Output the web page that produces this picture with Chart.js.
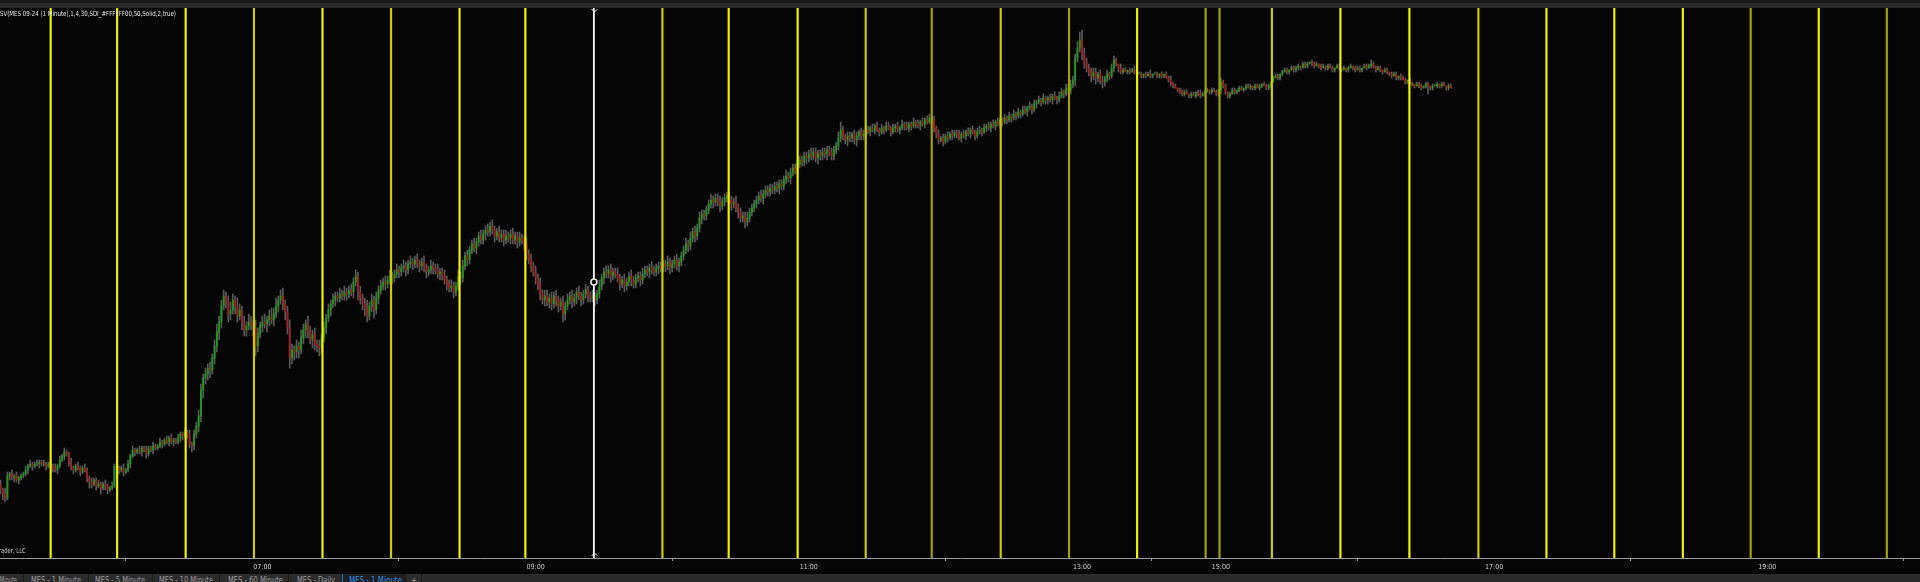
<!DOCTYPE html>
<html>
<head>
<meta charset="utf-8">
<script src="https://cdn.jsdelivr.net/npm/chart.js@4.4.1/dist/chart.umd.min.js"></script>
<style>
html, body { margin: 0; padding: 0; background: #050505; overflow: hidden; }
#page { position: relative; width: 1920px; height: 582px; background: #050505; }
#toolbar { position: absolute; left: 0; top: 0; width: 1920px; height: 8px; background: #2a2a2a; border-top: 3px solid #1a1a1a; box-sizing: border-box; }
#wrap { position: absolute; left: 0; top: 8px; width: 1920px; height: 566px; }
.txt { position: absolute; white-space: nowrap; font-family: 'Liberation Sans Narrow', 'DejaVu Sans Condensed', sans-serif; transform-origin: 0 0; line-height: 1; }
#header { left: 0; top: 11px; font-size: 7px; color: #e8e8e8; z-index: 2; }
#copy { top: 548px; font-size: 7px; color: #cfcfcf; z-index: 2; }
#tabs { position: absolute; left: 0; top: 574px; width: 1920px; height: 8px; background: #2b2b2b; overflow: hidden; }
.tab { position: absolute; top: 0; height: 8px; box-sizing: border-box; border-right: 1px solid #1b1b1b; }
.tab span { position: absolute; top: 3px; font-size: 8px; color: #9c9c9c; }
.tab.active { background: #1e1e1e; border-left: 1px solid #1e7fd8; }
.tab.active span { color: #2a8fe8; }
</style>
</head>
<body>
<div id="page">
  <div id="toolbar"></div>
  <div id="wrap"><canvas id="chart"></canvas></div>
  <div id="header" class="txt">SV(MES 09-24 (1 Minute),1,4,30,SDI_#FFFFFF00,50,Solid,2,true)</div>
  <div id="copy" class="txt">© 2024 NinjaTrader, LLC</div>
  <div id="tabs"></div>
</div>
<script>
// price data in ticks (0.25) above BASE, one bar per minute slot
const BASE = 5534;
const TICK = 0.25;
const firstSlot = -115;      // slot 0 = 07:00
const firstOpenTick = 37;

const closeTicks = [
  34,32,30,41,42,40,41,39,40,41,
  42,44,46,47,46,47,47,48,47,47,
  46,47,46,45,44,46,49,51,53,52,
  48,45,44,46,45,43,45,44,40,38,
  37,39,36,37,35,37,36,34,35,36,
  46,45,44,45,43,44,47,51,54,53,
  54,53,55,54,52,55,54,56,55,56,
  58,57,59,58,60,58,59,58,60,62,
  61,63,62,57,56,62,66,71,84,90,
  92,95,94,100,106,113,118,126,131,128,
  122,124,129,126,121,124,118,114,116,118,
  117,115,106,112,116,118,117,119,121,119,
  122,126,129,131,127,123,115,100,104,103,
  106,104,110,114,117,113,109,112,107,106,
  105,110,115,120,124,127,129,131,130,132,
  131,133,132,134,133,138,141,133,130,127,
  125,121,126,129,124,130,134,136,138,137,
  139,141,140,142,144,143,145,146,144,147,
  148,147,149,147,146,148,145,143,144,146,
  145,144,142,143,141,139,137,135,136,133,
  136,141,140,146,151,149,154,157,155,158,
  161,159,162,164,163,166,164,161,163,160,
  162,159,161,160,162,159,161,158,160,159,
  157,152,149,146,143,140,137,132,129,131,
  128,130,127,131,129,126,128,122,126,129,
  131,128,130,133,131,129,132,134,131,130,
  131,129,132,136,140,143,142,144,141,143,
  142,140,137,139,136,138,141,139,137,140,
  141,139,142,144,143,145,144,143,145,146,
  145,147,146,148,145,147,149,146,148,151,
  154,157,156,160,163,161,165,170,172,171,
  174,177,179,178,180,178,176,178,180,181,
  179,177,178,175,173,170,171,168,170,173,
  175,177,179,181,180,182,184,183,185,184,
  186,185,187,186,189,191,190,193,195,194,
  197,199,198,201,200,202,201,203,200,202,
  201,203,202,204,203,201,204,206,210,214,
  211,209,211,210,212,209,211,213,211,212,
  214,213,215,214,216,214,213,215,214,216,
  215,213,215,216,214,215,217,216,215,217,
  216,218,217,216,218,217,219,218,220,219,
  215,212,209,210,208,211,210,212,211,213,
  212,210,212,211,213,212,214,213,211,213,
  214,213,215,216,215,217,216,218,217,219,
  218,220,219,221,220,222,221,223,222,224,
  223,225,226,224,227,228,229,228,230,229,
  230,229,231,230,229,231,233,232,235,234,
  237,239,250,255,259,252,248,245,243,241,
  243,240,242,239,238,240,242,241,245,249,
  247,245,243,244,243,244,243,244,243,242,
  242,241,242,241,242,241,242,242,241,242,
  241,242,240,239,237,236,235,234,233,232,
  233,232,231,232,231,233,232,231,232,233,
  234,233,234,233,232,234,238,236,233,231,
  232,234,233,234,235,234,235,236,235,236,
  235,236,235,236,237,236,235,236,238,240,
  241,240,242,243,244,243,244,245,244,245,
  246,245,247,246,247,248,247,246,247,246,
  245,246,245,246,245,244,245,246,245,244,
  245,244,245,246,245,244,245,244,245,246,
  245,246,247,246,244,245,244,243,244,243,
  242,241,242,240,241,240,239,238,239,237,
  237,236,237,236,235,236,237,236,235,236,
  236,237,236,237,236,235,236,235
];

// wick length in ticks above the body top / below the body bottom
const upperWick = [
  2,1,3,2,1,2,1,2,1,1, 1,2,1,2,1,1,2,1,1,2, 1,1,2,1,2,1,2,1,2,1, 1,2,1,1,2,1,1,2,1,1,
  2,1,1,2,1,1,2,1,1,2, 1,2,1,1,2,1,2,1,2,1, 1,2,1,1,2,1,1,2,1,1, 2,1,1,2,1,2,1,1,2,1,
  1,2,1,2,1,2,2,3,3,2, 3,2,3,2,3,4,3,3,3,2, 3,4,3,2,4,3,2,3,2,4, 3,2,4,3,2,3,4,2,3,4,
  3,4,2,3,4,2,3,4,3,2, 3,2,4,3,2,4,3,2,3,2, 3,2,3,2,3,2,3,2,2,3, 2,3,2,2,3,2,3,2,3,2,
  3,4,2,3,2,3,2,3,2,3, 2,3,2,2,3,2,2,3,2,2, 3,2,2,3,2,2,3,2,2,3, 2,2,3,2,2,3,2,2,3,2,
  2,3,2,3,2,3,2,2,3,2, 2,3,2,2,3,2,3,2,2,3, 2,2,3,2,2,3,2,2,3,2, 2,3,2,3,2,3,2,3,2,3,
  3,2,3,2,3,2,2,3,2,3, 2,3,2,2,3,2,2,3,2,2, 3,2,2,3,2,2,3,2,3,2, 2,3,2,2,3,2,2,3,2,2,
  2,2,3,2,2,2,3,2,2,2, 2,2,2,3,2,2,2,3,2,2, 2,3,2,3,2,3,2,3,2,2, 2,2,3,2,2,2,3,2,2,2,
  2,2,2,3,2,2,2,2,3,2, 2,2,2,2,3,2,2,2,2,2, 2,2,2,2,2,3,2,2,2,2, 2,2,2,2,2,2,3,2,2,2,
  2,2,2,2,2,2,2,2,3,4, 2,1,2,2,1,2,2,1,2,2, 1,2,1,2,1,2,1,2,1,2, 2,1,2,1,2,1,2,1,2,1,
  1,2,1,2,1,2,1,2,2,1, 2,1,2,1,2,1,2,1,2,1, 1,2,1,2,1,2,1,2,1,2, 2,1,2,1,2,1,2,1,2,1,
  1,2,1,2,1,2,1,2,1,2, 2,1,2,1,2,1,2,1,2,1, 1,2,1,2,1,2,2,1,2,2, 2,2,2,3,4,5,3,2,2,2,
  2,2,1,2,2,1,2,1,2,2, 1,0,2,1,1,0,1,1,2,1, 1,1,0,1,1,2,0,1,1,0, 1,0,1,1,2,1,1,0,1,1,
  1,1,0,1,1,0,1,2,1,1, 1,0,1,1,1,0,2,1,1,0, 1,1,1,0,1,1,0,1,1,1, 0,1,1,1,0,1,1,1,0,1,
  1,1,0,1,1,1,0,1,1,1, 1,0,1,1,1,0,1,1,1,0, 1,1,0,1,1,1,0,1,1,0, 1,0,1,1,0,1,1,1,0,1,
  1,1,2,1,0,1,1,0,1,1, 0,1,1,1,0,1,1,1,0,1, 1,0,1,1,1,0,1,1,0,1, 1,1,0,1,1,0,1,1
];
const lowerWick = [
  2,3,2,1,2,1,2,1,2,1, 1,1,2,1,2,1,1,2,1,1, 2,1,1,2,1,2,1,1,2,1, 2,1,2,1,1,2,1,1,2,3,
  2,1,2,1,3,1,2,2,1,1, 1,1,2,1,2,1,1,2,1,2, 1,1,2,1,2,1,1,2,1,1, 1,2,1,1,2,1,2,1,1,2,
  2,1,2,2,3,2,2,3,3,4, 3,3,4,2,3,3,4,3,2,3, 4,3,2,4,3,2,4,3,3,2, 3,4,5,3,2,3,2,4,3,2,
  3,2,3,2,3,4,3,5,3,4, 3,4,2,3,4,3,2,4,3,3, 4,3,2,3,2,3,2,3,2,2, 2,2,3,2,2,3,2,4,3,3,
  4,3,2,3,4,2,3,2,2,3, 2,2,3,2,2,3,2,2,3,2, 2,3,2,2,3,2,2,3,2,2, 3,2,2,3,2,2,3,2,2,3,
  2,2,3,2,2,3,2,2,2,3, 2,2,2,3,2,2,2,3,2,2, 2,3,2,2,3,2,2,3,2,2, 3,3,2,3,2,3,3,3,2,3,
  2,3,3,2,3,3,2,4,3,2, 2,3,2,3,2,3,2,2,3,2, 2,3,2,2,2,3,2,2,3,2, 2,2,3,2,3,2,2,3,2,2,
  2,3,2,2,2,3,2,2,2,3, 2,2,3,2,3,2,2,2,3,2, 2,2,3,2,2,3,2,2,3,2, 2,2,2,3,2,2,3,2,2,2,
  2,3,2,2,3,2,2,3,2,2, 2,2,2,2,2,3,2,2,2,2, 2,2,3,2,2,2,2,3,2,2, 2,2,2,2,3,2,2,2,2,3,
  2,2,2,3,2,2,2,2,2,2, 2,2,3,2,2,2,3,2,2,2, 2,1,2,1,2,1,2,1,2,1, 1,2,1,2,1,2,1,2,1,2,
  2,1,2,1,2,1,2,1,1,2, 2,2,2,1,2,1,2,1,2,1, 2,1,2,1,2,1,2,1,2,1, 1,2,1,2,1,2,1,2,1,2,
  2,1,2,1,2,1,2,1,2,1, 1,2,1,2,1,2,1,2,1,2, 2,1,2,1,2,1,1,2,1,2, 2,2,3,2,2,3,3,2,2,3,
  2,3,2,2,3,2,2,2,1,2, 1,2,1,1,0,1,1,0,1,1, 0,1,1,1,0,1,1,0,1,1, 1,1,0,1,1,1,0,1,1,1,
  1,0,1,1,0,1,1,1,0,1, 0,1,1,0,1,1,2,1,1,1, 1,0,1,1,1,0,1,1,0,1, 1,1,0,1,1,0,1,1,1,0,
  0,1,1,1,0,1,1,0,1,1, 1,1,0,1,1,0,1,1,0,1, 1,0,1,1,0,1,1,0,1,1, 0,1,1,0,1,1,0,1,1,0,
  1,0,1,1,1,0,1,1,0,1, 1,1,0,1,1,1,0,1,1,0, 1,1,0,1,1,0,1,4,1,1, 0,1,1,1,0,1,1,0
];

// time axis
const hourSlots = [0, 120, 240, 360, 421, 541, 661];
const hourLabels = ['07:00', '09:00', '11:00', '13:00', '15:00', '17:00', '19:00'];

// session divider lines (indicator) and cursor
const markSlots = [-93.0, -63.8, -33.7, -3.7, 26.4, 56.5, 86.6, 115.5, 175.7, 204.8, 235.1, 265.0, 294.0, 324.3,
  354.3, 384.2, 414.3, 420.4, 443.4, 473.5, 503.8, 534.1, 564.0, 593.8, 623.9, 653.7, 683.6, 713.5];
const cursorSlot = 145.6;
const cursorPrice = 5568.5;

// styles
const Y1 = '#f4f400', Y2 = '#cccc00', Y3 = '#a2a200';
const markColors = [Y1, Y1, Y1, Y2, Y1, Y2, Y1, Y1, Y2, Y1, Y1, Y2, Y3, Y2,
  Y3, Y1, Y3, Y3, Y2, Y1, Y1, Y2, Y1, Y1, Y1, Y3, Y1, Y3];
const UP = '#1f9a1f', DOWN = '#a31e1e', WICK = '#595959';
const FONT = "'Liberation Sans Narrow', 'DejaVu Sans Condensed', sans-serif";

const yMin = BASE, yMax = BASE + 275 * TICK;
const xMin = -115.25, xMax = 728.07;

const bars = closeTicks.map((c, i) => {
  const o = i === 0 ? firstOpenTick : closeTicks[i - 1];
  return {
    x: firstSlot + i,
    o: BASE + o * TICK,
    c: BASE + c * TICK,
    h: BASE + (Math.max(o, c) + upperWick[i]) * TICK,
    l: BASE + (Math.min(o, c) - lowerWick[i]) * TICK
  };
});

const cursorMarks = {
  id: 'cursorMarks',
  afterDatasetsDraw(chart) {
    const { ctx, chartArea, scales } = chart;
    const px = Math.round(scales.x.getPixelForValue(cursorSlot)) + 0.5;
    ctx.save();
    ctx.strokeStyle = '#eeeeee';
    ctx.lineWidth = 1;
    ctx.beginPath();
    ctx.moveTo(px - 3, chartArea.top + 1); ctx.lineTo(px, chartArea.top + 4); ctx.lineTo(px + 3, chartArea.top + 1);
    ctx.moveTo(px - 3, chartArea.bottom - 2); ctx.lineTo(px, chartArea.bottom - 5); ctx.lineTo(px + 3, chartArea.bottom - 2);
    ctx.stroke();
    ctx.restore();
  }
};

new Chart(document.getElementById('chart'), {
  type: 'bar',
  data: {
    datasets: [
      {
        label: 'marks',
        data: markSlots.map(s => ({ x: s, y: [yMin, yMax] })),
        backgroundColor: markColors,
        barThickness: 1.5,
        grouped: false,
        order: 0
      },
      {
        label: 'cursor',
        data: [{ x: cursorSlot, y: [yMin, yMax] }],
        backgroundColor: '#f4f4f4',
        barThickness: 1.2,
        grouped: false,
        order: 0
      },
      {
        type: 'scatter',
        label: 'cursorPoint',
        data: [{ x: cursorSlot, y: cursorPrice }],
        pointRadius: 3,
        borderWidth: 1.5,
        borderColor: '#f0f0f0',
        backgroundColor: '#050505',
        order: -1
      },
      {
        label: 'wicks',
        data: bars.map(b => ({ x: b.x, y: [b.l, b.h] })),
        backgroundColor: WICK,
        barThickness: 1,
        grouped: false,
        order: 2
      },
      {
        label: 'bodies',
        data: bars.map(b => ({ x: b.x, y: [b.o, b.c] })),
        backgroundColor: bars.map(b => b.c >= b.o ? UP : DOWN),
        barThickness: 1.2,
        grouped: false,
        order: 1
      }
    ]
  },
  options: {
    responsive: true,
    maintainAspectRatio: false,
    devicePixelRatio: 1,
    animation: false,
    events: [],
    layout: { padding: 0, autoPadding: false },
    plugins: { legend: { display: false }, tooltip: { enabled: false } },
    scales: {
      x: {
        type: 'linear',
        min: xMin,
        max: xMax,
        offset: false,
        grid: { display: true, drawOnChartArea: false, drawTicks: true, tickLength: 3, color: '#9a9a9a' },
        border: { display: true, color: '#9a9a9a', dash: [1, 1] },
        afterBuildTicks: s => { s.ticks = hourSlots.map(v => ({ value: v })); },
        afterFit: s => { s.height = 16; s.paddingLeft = 0; s.paddingRight = 0; },
        ticks: {
          autoSkip: false,
          maxRotation: 0,
          padding: 2,
          color: '#d2d2d2',
          font: { family: FONT, size: 7 },
          callback: (v) => hourLabels[hourSlots.indexOf(v)] ?? ''
        }
      },
      y: { display: false, min: yMin, max: yMax }
    }
  },
  plugins: [cursorMarks]
});

// tab strip
const tabNames = ['MES - 1 Minute', 'MES - 1 Minute', 'MES - 5 Minute', 'MES - 10 Minute', 'MES - 60 Minute', 'MES - Daily', 'MES - 1 Minute', '+'];
const tabEdges = [-40, 24, 89, 153, 220, 289, 342, 406, 422];
const tabText = [[-21, 17], [31, 81], [95, 145], [159, 213], [228, 283], [297, 335], [348, 401], [411, 417]];
const tabs = document.getElementById('tabs');
tabNames.forEach((name, i) => {
  const t = document.createElement('div');
  t.className = 'tab' + (i === 6 ? ' active' : '');
  t.style.left = tabEdges[i] + 'px';
  t.style.width = (tabEdges[i + 1] - tabEdges[i]) + 'px';
  const s = document.createElement('span');
  s.className = 'txt';
  s.textContent = name;
  s.style.left = (tabText[i][0] - tabEdges[i]) + 'px';
  t.appendChild(s);
  tabs.appendChild(t);
  const w = s.getBoundingClientRect().width;
  s.style.transform = 'scaleX(' + ((tabText[i][1] - tabText[i][0]) / w) + ')';
});

// squeeze header / copyright to the widths seen in the screenshot
const hdr = document.getElementById('header');
hdr.style.transform = 'scaleX(' + (176 / hdr.getBoundingClientRect().width) + ')';
const cp = document.getElementById('copy');
const mctx = document.createElement('canvas').getContext('2d');
mctx.font = '7px ' + FONT;
const k = 27 / mctx.measureText('rader, LLC').width;
const full = mctx.measureText(cp.textContent).width * k;
cp.style.left = (26 - full) + 'px';
cp.style.transform = 'scaleX(' + k + ')';
</script>
</body>
</html>
